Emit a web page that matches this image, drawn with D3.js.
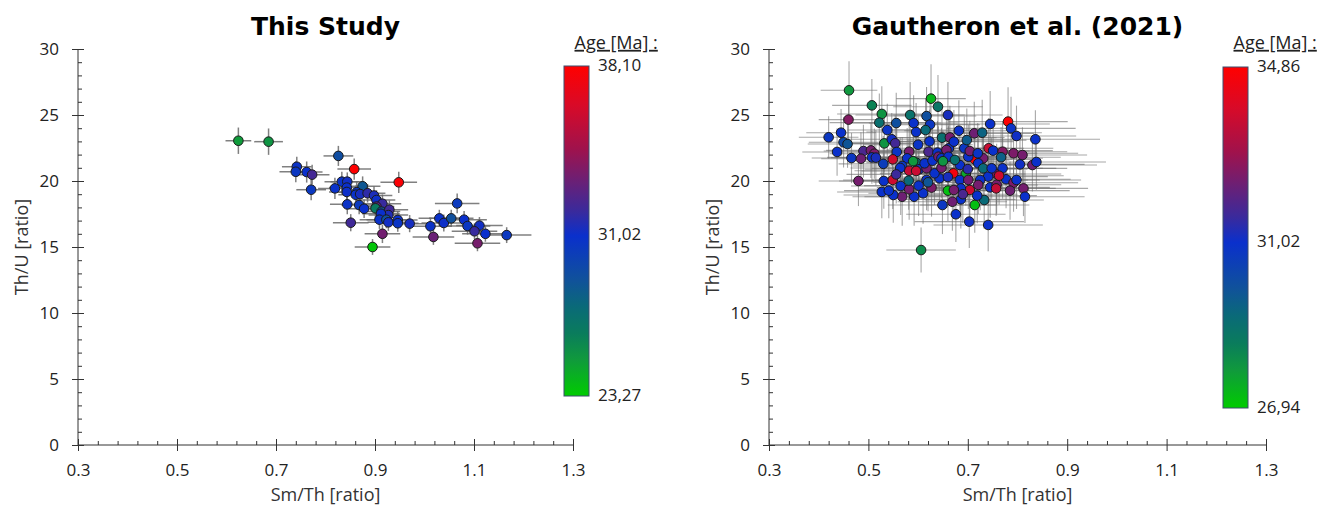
<!DOCTYPE html>
<html><head><meta charset="utf-8">
<script src="https://cdn.jsdelivr.net/npm/d3@7/dist/d3.min.js"></script>
<style>
html,body{margin:0;padding:0;background:#fff;}
svg{display:block;}
</style></head>
<body>
<svg id="chart" width="1333" height="505"></svg>
<script>
// ---------- DATA ----------
const panelTitles = ["This Study", "Gautheron et al. (2021)"];
const xLabel = "Sm/Th [ratio]";
const yLabel = "Th/U [ratio]";
const legendTitle = "Age [Ma] :";
const xTicks = [0.3, 0.5, 0.7, 0.9, 1.1, 1.3];
const yTicks = [0, 5, 10, 15, 20, 25, 30];
const studyAgeRange = [23.27, 31.02, 38.10];     // min, mid, max
const gautheronAgeRange = [26.94, 31.02, 34.86]; // min, mid, max
const studyAgeLabels = ["23,27", "31,02", "38,10"];
const gautheronAgeLabels = ["26,94", "31,02", "34,86"];
// colour ramp (fraction from bottom of colour bar -> colour)
const rampStops = [0, 0.11, 0.19, 0.27, 0.35, 0.485, 0.56, 0.65, 0.75, 0.88, 1];
const rampColors = ["#00cc00", "#109a3c", "#0a7c5c", "#0a6a78", "#10529a", "#0a30cc",
                    "#3a2a9c", "#6a2076", "#a0124c", "#d80a28", "#ff0000"];

// rows: [Sm/Th, Th/U, age (Ma), Sm/Th error, Th/U error]
const studyPoints = [
 [0.624,23.05,25.0,0.026,1.0],[0.685,22.98,25.3,0.029,1.0],[0.826,21.90,29.2,0.030,0.76],
 [0.858,20.90,38.1,0.034,0.80],[0.948,19.90,37.9,0.037,0.80],[0.742,21.08,30.8,0.030,0.75],
 [0.740,20.70,30.6,0.033,0.80],[0.762,20.68,31.0,0.032,0.80],[0.773,20.48,32.3,0.035,0.75],
 [0.771,19.34,30.5,0.030,0.80],[0.819,19.44,30.9,0.034,0.80],[0.833,19.95,30.8,0.035,0.75],
 [0.844,19.95,31.2,0.034,0.70],[0.843,19.50,31.0,0.036,0.80],[0.875,19.60,28.6,0.036,0.75],
 [0.863,19.15,30.7,0.040,0.80],[0.843,19.17,31.1,0.036,0.75],[0.861,18.96,30.9,0.035,0.70],
 [0.870,19.01,31.3,0.038,0.75],[0.885,19.07,31.8,0.036,0.70],[0.898,18.90,31.4,0.037,0.70],
 [0.903,18.56,31.1,0.038,0.75],[0.915,18.28,32.0,0.038,0.70],[0.844,18.23,30.8,0.035,0.75],
 [0.868,18.18,30.4,0.036,0.70],[0.878,17.90,31.0,0.037,0.70],[0.903,18.06,33.0,0.036,0.70],
 [0.901,17.93,26.5,0.037,0.70],[0.913,17.68,28.8,0.038,0.70],[0.929,17.83,32.2,0.038,0.70],
 [0.927,17.42,31.5,0.040,0.70],[0.912,17.52,31.0,0.038,0.70],[0.909,17.07,30.9,0.040,0.70],
 [0.923,17.07,29.0,0.040,0.65],[0.927,16.87,31.2,0.042,0.65],[0.946,17.05,31.0,0.040,0.65],
 [0.946,16.80,30.7,0.042,0.65],[0.970,16.77,31.3,0.042,0.65],[0.851,16.84,32.2,0.036,0.65],
 [0.915,16.00,33.5,0.036,0.70],[0.895,15.00,23.5,0.036,0.60],[1.066,18.30,30.4,0.045,0.75],
 [1.030,17.17,30.9,0.042,0.65],[1.039,16.82,31.1,0.045,0.65],[1.054,17.17,29.0,0.045,0.65],
 [1.012,16.57,30.8,0.042,0.65],[1.018,15.76,33.3,0.042,0.60],[1.080,17.07,31.0,0.046,0.65],
 [1.087,16.59,30.6,0.046,0.65],[1.111,16.62,31.2,0.047,0.65],[1.101,16.19,32.0,0.046,0.60],
 [1.123,16.00,31.0,0.047,0.60],[1.166,15.90,30.5,0.050,0.60],[1.107,15.28,33.6,0.046,0.60]
];

const gautheronPoints = [
 [0.461,26.87,27.9,0.057,2.2],[0.507,25.73,28.4,0.080,2.0],[0.527,25.08,28.0,0.090,2.1],
 [0.626,26.24,27.4,0.070,2.6],[0.640,25.63,28.8,0.090,2.4],[0.460,24.65,32.6,0.060,2.0],
 [0.522,24.42,29.0,0.100,2.2],[0.556,24.39,30.0,0.090,2.3],[0.584,25.00,28.9,0.110,2.5],
 [0.617,24.92,30.0,0.100,2.2],[0.591,24.39,31.0,0.090,2.1],[0.624,24.27,30.8,0.100,2.3],
 [0.660,25.00,31.2,0.110,2.5],[0.538,23.86,30.9,0.080,2.0],[0.596,23.71,31.0,0.100,2.2],
 [0.615,23.86,29.2,0.090,2.4],[0.445,23.66,31.0,0.070,1.8],[0.420,23.31,30.8,0.060,1.6],
 [0.450,22.93,30.2,0.070,1.9],[0.458,22.80,29.8,0.080,1.8],[0.532,22.85,28.0,0.090,2.2],
 [0.547,23.16,31.1,0.090,2.0],[0.554,22.86,31.7,0.100,2.1],[0.600,22.75,30.9,0.110,2.2],
 [0.623,23.00,31.0,0.100,2.4],[0.437,22.20,31.0,0.070,1.8],[0.466,21.74,30.8,0.080,1.9],
 [0.490,22.27,31.8,0.080,2.0],[0.505,22.32,32.4,0.090,2.1],[0.512,22.07,32.5,0.090,1.9],
 [0.485,21.69,32.3,0.080,2.0],[0.507,21.79,31.0,0.090,2.0],[0.515,21.77,31.2,0.090,2.1],
 [0.557,22.20,30.9,0.100,2.2],[0.549,21.64,33.8,0.090,2.1],[0.582,22.22,32.4,0.100,2.2],
 [0.578,21.72,31.0,0.110,2.3],[0.568,21.14,30.8,0.100,2.2],[0.582,20.78,33.6,0.110,2.2],
 [0.596,21.39,29.1,0.100,2.4],[0.602,20.89,31.1,0.110,2.3],[0.621,22.22,31.8,0.110,2.3],
 [0.639,22.15,31.0,0.120,2.4],[0.480,20.00,32.4,0.080,1.9],[0.745,24.32,31.0,0.120,2.5],
 [0.781,24.50,34.8,0.120,2.6],[0.787,23.99,30.9,0.130,2.4],[0.798,23.41,31.1,0.120,2.3],
 [0.836,23.16,31.0,0.130,2.2],[0.713,23.61,32.3,0.120,2.4],[0.729,23.66,29.4,0.120,2.5],
 [0.682,23.81,31.0,0.110,2.3],[0.648,23.28,29.0,0.110,2.4],[0.662,22.48,31.0,0.120,2.3],
 [0.693,22.48,30.8,0.120,2.4],[0.742,22.48,33.7,0.130,2.3],[0.751,22.30,31.0,0.120,2.2],
 [0.770,22.22,32.6,0.130,2.3],[0.792,22.10,32.5,0.130,2.2],[0.810,21.97,32.4,0.130,2.1],
 [0.830,21.21,32.3,0.130,2.0],[0.838,21.44,31.0,0.140,2.1],[0.805,21.26,31.1,0.130,2.2],
 [0.767,21.80,29.5,0.120,2.3],[0.714,21.64,34.7,0.120,2.4],[0.731,21.72,32.4,0.120,2.3],
 [0.701,21.84,31.0,0.110,2.4],[0.671,20.58,34.6,0.110,2.3],[0.696,20.53,27.6,0.120,2.4],
 [0.704,19.32,33.7,0.120,2.2],[0.714,18.18,27.2,0.110,2.1],[0.733,18.56,29.2,0.120,2.2],
 [0.745,19.52,31.0,0.120,2.3],[0.758,20.53,32.6,0.130,2.3],[0.777,20.13,31.0,0.130,2.2],
 [0.792,19.87,32.5,0.130,2.2],[0.812,19.44,32.4,0.130,2.1],[0.815,18.81,31.0,0.120,2.0],
 [0.785,19.27,32.3,0.120,2.2],[0.741,16.67,31.0,0.110,2.0],[0.703,16.92,31.1,0.110,2.0],
 [0.676,17.48,31.0,0.100,2.1],[0.686,18.61,31.0,0.110,2.2],[0.649,18.18,30.8,0.110,2.2],
 [0.669,18.43,32.3,0.110,2.2],[0.606,14.77,28.2,0.070,1.7],[0.660,19.27,27.2,0.110,2.3],
 [0.610,19.07,31.0,0.110,2.3],[0.592,18.81,31.0,0.100,2.2],[0.568,18.81,32.3,0.100,2.2],
 [0.550,18.94,31.0,0.100,2.1],[0.527,19.17,31.0,0.090,2.0],[0.541,19.27,31.0,0.090,2.1],
 [0.531,20.00,31.0,0.090,2.1],[0.549,20.08,33.8,0.100,2.2],[0.565,19.62,31.0,0.100,2.2],
 [0.582,19.37,32.4,0.100,2.3],[0.601,19.65,31.0,0.110,2.3],[0.617,20.08,31.0,0.110,2.3],
 [0.627,19.50,32.5,0.110,2.2],[0.643,20.20,31.0,0.110,2.3],[0.633,20.58,31.0,0.110,2.4],
 [0.617,20.96,32.4,0.110,2.3],[0.596,20.76,33.7,0.110,2.2],[0.613,21.34,31.0,0.110,2.3],
 [0.629,21.54,31.0,0.110,2.4],[0.641,21.84,32.4,0.120,2.3],[0.657,22.35,32.4,0.120,2.4],
 [0.647,21.72,31.0,0.110,2.3],[0.684,21.21,31.0,0.120,2.4],[0.721,21.34,31.0,0.120,2.3],
 [0.731,20.96,29.2,0.120,2.3],[0.741,20.33,31.0,0.120,2.2],[0.748,20.96,31.0,0.130,2.3],
 [0.684,20.08,31.0,0.120,2.3],[0.701,20.08,32.4,0.120,2.2],[0.725,20.08,31.0,0.120,2.3],
 [0.721,19.70,32.4,0.120,2.2],[0.686,19.44,31.0,0.110,2.2],[0.672,19.32,32.4,0.110,2.2],
 [0.758,19.72,32.4,0.130,2.2],[0.770,20.96,31.0,0.130,2.3],[0.798,20.08,31.0,0.130,2.2],
 [0.763,20.40,33.8,0.130,2.2],[0.757,19.44,33.6,0.120,2.1],[0.719,18.89,31.0,0.120,2.1],
 [0.581,20.03,29.2,0.100,2.2],[0.564,20.99,31.0,0.100,2.3],[0.647,21.00,32.4,0.110,2.3],
 [0.664,23.30,32.4,0.110,2.4],[0.704,22.27,32.4,0.120,2.3],[0.661,21.84,31.0,0.110,2.3],
 [0.674,21.60,29.0,0.110,2.3],[0.650,21.50,28.0,0.110,2.3],[0.672,22.98,31.0,0.120,2.4],
 [0.698,23.10,29.6,0.120,2.4],[0.590,21.50,27.9,0.100,2.3],[0.556,20.50,31.6,0.100,2.2],
 [0.530,21.30,30.6,0.090,2.1],[0.620,19.90,29.8,0.110,2.2],[0.700,20.90,31.4,0.120,2.3],
 [0.660,20.30,31.2,0.110,2.3],[0.720,22.10,30.9,0.120,2.3],[0.690,19.00,31.8,0.110,2.2]
];

// ---------- LAYOUT ----------
const panels = [
  {data: studyPoints, ages: studyAgeRange, ageLabels: studyAgeLabels, title: panelTitles[0],
   x0: 78, x1: 573, yTop: 49, yBot: 445, cb: {x: 564, y: 66, w: 25, h: 330}, yTitleX: 23,
   err: {stroke: "#6a6a6a", width: 1.5, opacity: 0.85}},
  {data: gautheronPoints, ages: gautheronAgeRange, ageLabels: gautheronAgeLabels, title: panelTitles[1],
   x0: 769, x1: 1266, yTop: 49, yBot: 445, cb: {x: 1223, y: 67, w: 25, h: 341}, yTitleX: 714,
   err: {stroke: "#6e6e6e", width: 1.1, opacity: 0.6}}
];

const svg = d3.select("#chart");
const FONT = "'Open Sans', 'Noto Sans', sans-serif";
const defs = svg.append("defs");
const ramp = d3.scaleLinear().domain(rampStops).range(rampColors).interpolate(d3.interpolateRgb);

panels.forEach((p, pi) => {
  const x = d3.scaleLinear().domain([xTicks[0], xTicks[xTicks.length - 1]]).range([p.x0, p.x1]);
  const y = d3.scaleLinear().domain([yTicks[0], yTicks[yTicks.length - 1]]).range([p.yBot, p.yTop]);
  const ageToT = d3.scaleLinear().domain(p.ages).range([0, 0.485, 1]).clamp(true);
  const color = a => ramp(ageToT(a));

  const g = svg.append("g");

  // minor ticks
  const xMinor = d3.range(0, 26).map(i => 0.3 + i * 0.04).filter(v => !xTicks.some(t => Math.abs(t - v) < 1e-6));
  const yMinor = d3.range(0, 31).filter(v => v % 5 !== 0);
  g.append("g").attr("transform", `translate(0,${p.yBot})`)
    .call(d3.axisBottom(x).tickValues(xMinor).tickSize(-4).tickFormat(""))
    .call(s => s.select(".domain").remove())
    .selectAll("line").attr("stroke", "#333");
  g.append("g").attr("transform", `translate(${p.x0},0)`)
    .call(d3.axisLeft(y).tickValues(yMinor).tickSize(-4).tickFormat(""))
    .call(s => s.select(".domain").remove())
    .selectAll("line").attr("stroke", "#333");

  // major axes
  const xa = g.append("g").attr("transform", `translate(0,${p.yBot})`)
    .call(d3.axisBottom(x).tickValues(xTicks).tickSizeOuter(0).tickSize(6).tickPadding(13).tickFormat(d3.format(".1f")));
  xa.selectAll(".tick line").attr("y1", -6).attr("y2", 6).attr("stroke", "#333");
  xa.select(".domain").attr("stroke", "#333").attr("d", `M${p.x0},0H${p.x1}`);
  xa.selectAll("text").attr("font-family", FONT).attr("font-size", 17).attr("fill", "#222");

  const ya = g.append("g").attr("transform", `translate(${p.x0},0)`)
    .call(d3.axisLeft(y).tickValues(yTicks).tickSizeOuter(0).tickSize(6).tickPadding(13).tickFormat(d3.format("d")));
  ya.selectAll(".tick line").attr("x1", -6).attr("x2", 6).attr("stroke", "#333");
  ya.select(".domain").attr("stroke", "#333").attr("d", `M0,${p.yBot}V${p.yTop}`);
  ya.selectAll("text").attr("font-family", FONT).attr("font-size", 17).attr("fill", "#222");

  // axis titles
  g.append("text").attr("x", (p.x0 + p.x1) / 2).attr("y", 496).attr("text-anchor", "middle")
    .attr("dominant-baseline", "middle").attr("font-family", FONT).attr("font-size", 18).attr("fill", "#333").text(xLabel);
  g.append("text").attr("transform", `translate(${p.yTitleX},${(p.yTop + p.yBot) / 2}) rotate(-90)`)
    .attr("text-anchor", "middle").attr("dominant-baseline", "middle")
    .attr("font-family", FONT).attr("font-size", 18).attr("fill", "#333").text(yLabel);

  // panel title
  g.append("text").attr("x", (p.x0 + p.x1) / 2).attr("y", 28).attr("text-anchor", "middle")
    .attr("dominant-baseline", "middle").attr("font-family", "'DejaVu Sans', sans-serif")
    .attr("font-weight", "bold").attr("font-size", 25).attr("fill", "#000").text(p.title);

  // error bars
  const eg = g.append("g").attr("stroke", p.err.stroke).attr("stroke-width", p.err.width)
    .attr("stroke-opacity", p.err.opacity);
  eg.selectAll("line.h").data(p.data).join("line").attr("class", "h")
    .attr("x1", d => x(d[0] - d[3])).attr("x2", d => x(d[0] + d[3]))
    .attr("y1", d => y(d[1])).attr("y2", d => y(d[1]));
  eg.selectAll("line.v").data(p.data).join("line").attr("class", "v")
    .attr("x1", d => x(d[0])).attr("x2", d => x(d[0]))
    .attr("y1", d => y(d[1] - d[4])).attr("y2", d => y(d[1] + d[4]));

  // points
  g.append("g").selectAll("circle").data(p.data).join("circle")
    .attr("cx", d => x(d[0])).attr("cy", d => y(d[1])).attr("r", 4.8)
    .attr("fill", d => color(d[2])).attr("stroke", "#1a1a1a").attr("stroke-width", 1);

  // colour bar
  const gid = "grad" + pi;
  const grad = defs.append("linearGradient").attr("id", gid)
    .attr("x1", 0).attr("y1", 1).attr("x2", 0).attr("y2", 0);
  grad.selectAll("stop").data(rampStops).join("stop")
    .attr("offset", d => d).attr("stop-color", (d, i) => rampColors[i]);
  g.append("rect").attr("x", p.cb.x).attr("y", p.cb.y).attr("width", p.cb.w).attr("height", p.cb.h)
    .attr("fill", `url(#${gid})`).attr("stroke", "#3c4e6e").attr("stroke-width", 1);
  const cbScale = d3.scaleLinear().domain(p.ages).range([p.cb.y + p.cb.h, p.cb.y + p.cb.h * (1 - 0.485), p.cb.y]);
  g.append("g").selectAll("text").data(p.ages).join("text")
    .attr("x", p.cb.x + p.cb.w + 9).attr("y", d => cbScale(d)).attr("dominant-baseline", "middle")
    .attr("font-family", FONT).attr("font-size", 17).attr("fill", "#222")
    .text((d, i) => p.ageLabels[i]);
  g.append("text").attr("x", p.cb.x + p.cb.w / 2 - 2).attr("y", 44).attr("dominant-baseline", "middle")
    .attr("font-family", FONT).attr("font-size", 18).attr("fill", "#222")
    .attr("text-decoration", "underline").text(legendTitle);
});
</script>
</body></html>
